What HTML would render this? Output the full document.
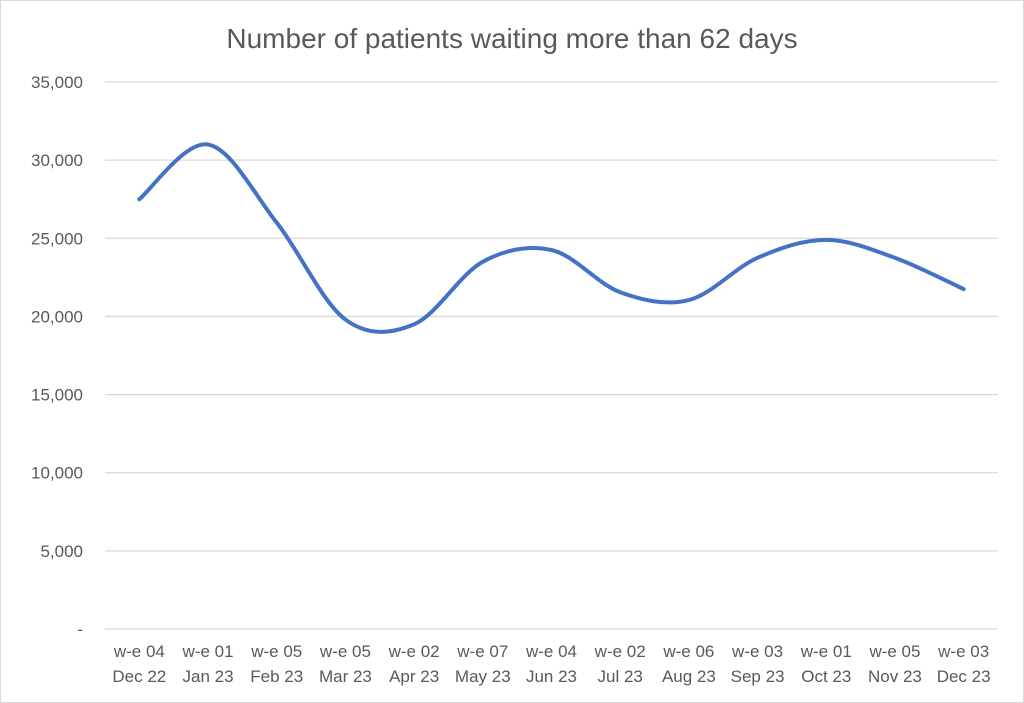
<!DOCTYPE html>
<html><head><meta charset="utf-8"><style>
html,body{margin:0;padding:0;background:#fff}
svg{display:block;font-family:"Liberation Sans",sans-serif}
</style></head><body>
<svg id="chart" width="1024" height="703" viewBox="0 0 1024 703">
<rect x="0.5" y="0.5" width="1023" height="702" fill="#fff" stroke="#d9d9d9"/>
<text x="512" y="48" text-anchor="middle" font-size="28" fill="#595959">Number of patients waiting more than 62 days</text>
<g id="grid"></g><g id="yticks"></g><g id="xticks"></g><g id="series"></g>
</svg>
<script>
const categories=["w-e 04|Dec 22","w-e 01|Jan 23","w-e 05|Feb 23","w-e 05|Mar 23","w-e 02|Apr 23","w-e 07|May 23","w-e 04|Jun 23","w-e 02|Jul 23","w-e 06|Aug 23","w-e 03|Sep 23","w-e 01|Oct 23","w-e 05|Nov 23","w-e 03|Dec 23"];
const values=[27500,31000,26000,19800,19500,23500,24250,21550,21050,23750,24900,23750,21750];
const yTicks=[0,5000,10000,15000,20000,25000,30000,35000];
const yTickLabels=["-","5,000","10,000","15,000","20,000","25,000","30,000","35,000"];
const NS="http://www.w3.org/2000/svg";
const x0=105,x1=998,yTop=82,yBot=629,yMax=35000;
const bw=(x1-x0)/categories.length;
function xs(i){return x0+bw*(i+0.5);}
function ys(v){return yBot-(v/yMax)*(yBot-yTop);}
function mk(t,a,p){const e=document.createElementNS(NS,t);for(const k in a)e.setAttribute(k,a[k]);p.appendChild(e);return e;}
const grid=document.getElementById('grid'),yt=document.getElementById('yticks'),xt=document.getElementById('xticks'),se=document.getElementById('series');
yTicks.forEach((v,i)=>{
 const l=mk('line',{x1:x0,x2:x1,y1:ys(v),y2:ys(v),stroke:'#d9d9d9','stroke-width':1.3},grid);
 
 
 const t=mk('text',{x:83,y:ys(v)+6,'text-anchor':'end','font-size':17,fill:'#595959'},yt);
 t.textContent=yTickLabels[i];
 
 
});
categories.forEach((c,i)=>{
 const p=c.split('|');
 const t=mk('text',{x:xs(i),'text-anchor':'middle','font-size':17,fill:'#595959'},xt);
 
 
 const a=mk('tspan',{x:xs(i),y:657},t);a.textContent=p[0];
 const b=mk('tspan',{x:xs(i),y:682},t);b.textContent=p[1];
});
const pts=values.map((v,i)=>[xs(i),ys(v)]);
let d=`M${pts[0][0]},${pts[0][1]}`;
for(let i=0;i<pts.length-1;i++){
 const p0=pts[Math.max(0,i-1)],p1=pts[i],p2=pts[i+1],p3=pts[Math.min(pts.length-1,i+2)];
 const k=1/6;
 d+=` C${p1[0]+(p2[0]-p0[0])*k},${p1[1]+(p2[1]-p0[1])*k} ${p2[0]-(p3[0]-p1[0])*k},${p2[1]-(p3[1]-p1[1])*k} ${p2[0]},${p2[1]}`;
}
const path=mk('path',{d:d,fill:'none',stroke:'#4472c4','stroke-width':4,'stroke-linecap':'round','stroke-linejoin':'round'},se);


</script>
</body></html>
